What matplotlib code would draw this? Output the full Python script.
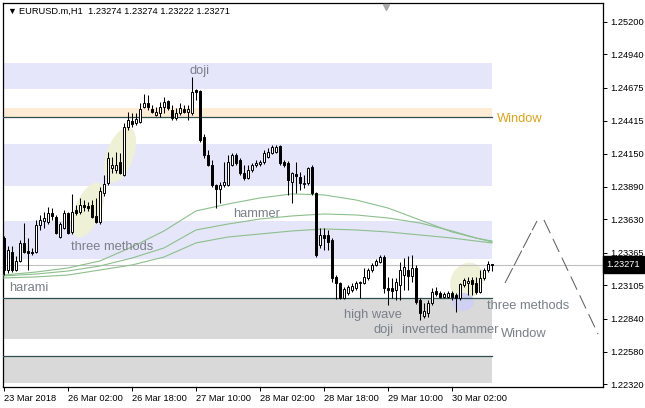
import matplotlib
matplotlib.use('Agg')
import matplotlib.pyplot as plt
import matplotlib.patches as mpatches
import matplotlib.transforms as mtransforms

plt.rcParams['font.family'] = ['Liberation Sans', 'DejaVu Sans']

# --- DATA: EURUSD.m H1, one value per bar ---
opens = [1.23482, 1.23228, 1.23371, 1.23228, 1.23300, 1.23443, 1.23379, 1.23371, 1.23371, 1.23585,
         1.23617, 1.23609, 1.23681, 1.23649, 1.23490, 1.23562, 1.23681, 1.23530, 1.23705, 1.23689,
         1.23744, 1.23736, 1.23744, 1.23657, 1.23609, 1.23840, 1.23919, 1.24038, 1.24022, 1.24086,
         1.23982, 1.24364, 1.24411, 1.24395, 1.24403, 1.24522, 1.24554, 1.24507, 1.24459, 1.24475,
         1.24522, 1.24570, 1.24499, 1.24435, 1.24475, 1.24507, 1.24483, 1.24475, 1.24657, 1.24649,
         1.24284, 1.24141, 1.24062, 1.23903, 1.23871, 1.23903, 1.23903, 1.24062, 1.24141, 1.24102,
         1.23998, 1.23959, 1.24022, 1.24062, 1.24070, 1.24086, 1.24125, 1.24157, 1.24165, 1.24213,
         1.24086, 1.24078, 1.23927, 1.23990, 1.23967, 1.23911, 1.23919, 1.24046, 1.23840, 1.23427,
         1.23506, 1.23506, 1.23466, 1.23173, 1.23125, 1.23006, 1.23046, 1.23070, 1.23085, 1.23125,
         1.23125, 1.23165, 1.23228, 1.23268, 1.23292, 1.23331, 1.23085, 1.23085, 1.23070, 1.23109,
         1.23188, 1.23228, 1.23181, 1.23244, 1.22990, 1.22863, 1.22887, 1.22966, 1.23062, 1.23046,
         1.23014, 1.23014, 1.23046, 1.23030, 1.23006, 1.23109, 1.23125, 1.23149, 1.23125, 1.23054,
         1.23165, 1.23228, 1.23274]
highs = [1.23498, 1.23419, 1.23419, 1.23339, 1.23466, 1.23601, 1.23482, 1.23403, 1.23625, 1.23665,
         1.23689, 1.23728, 1.23720, 1.23665, 1.23609, 1.23705, 1.23689, 1.23832, 1.23744, 1.23800,
         1.23784, 1.23768, 1.23784, 1.23800, 1.23887, 1.23982, 1.24165, 1.24125, 1.24165, 1.24157,
         1.24395, 1.24483, 1.24475, 1.24475, 1.24554, 1.24626, 1.24618, 1.24538, 1.24522, 1.24562,
         1.24602, 1.24578, 1.24538, 1.24514, 1.24554, 1.24538, 1.24538, 1.24761, 1.24665, 1.24657,
         1.24308, 1.24181, 1.24102, 1.23911, 1.23927, 1.24086, 1.24141, 1.24157, 1.24157, 1.24117,
         1.24062, 1.24062, 1.24078, 1.24102, 1.24102, 1.24181, 1.24197, 1.24221, 1.24221, 1.24221,
         1.24102, 1.24094, 1.24006, 1.24086, 1.24006, 1.23982, 1.24046, 1.24062, 1.23848, 1.23562,
         1.23562, 1.23546, 1.23482, 1.23188, 1.23133, 1.23094, 1.23109, 1.23125, 1.23141, 1.23141,
         1.23244, 1.23244, 1.23284, 1.23315, 1.23347, 1.23347, 1.23173, 1.23165, 1.23165, 1.23292,
         1.23323, 1.23339, 1.23347, 1.23268, 1.23006, 1.22966, 1.22990, 1.23085, 1.23094, 1.23062,
         1.23054, 1.23062, 1.23062, 1.23046, 1.23125, 1.23165, 1.23173, 1.23173, 1.23173, 1.23228,
         1.23244, 1.23300, 1.23274]
lows = [1.23188, 1.23204, 1.23212, 1.23220, 1.23292, 1.23363, 1.23228, 1.23347, 1.23363, 1.23546,
        1.23562, 1.23593, 1.23625, 1.23514, 1.23482, 1.23554, 1.23514, 1.23514, 1.23665, 1.23673,
        1.23697, 1.23697, 1.23641, 1.23601, 1.23593, 1.23816, 1.23903, 1.23998, 1.23998, 1.23990,
        1.23974, 1.24340, 1.24364, 1.24380, 1.24395, 1.24514, 1.24499, 1.24475, 1.24451, 1.24443,
        1.24475, 1.24499, 1.24419, 1.24419, 1.24459, 1.24475, 1.24419, 1.24459, 1.24578, 1.24244,
        1.24117, 1.24054, 1.23887, 1.23720, 1.23760, 1.23887, 1.23895, 1.24054, 1.24062, 1.23982,
        1.23943, 1.23951, 1.24006, 1.24046, 1.24054, 1.24070, 1.24117, 1.24149, 1.24157, 1.24062,
        1.24046, 1.23824, 1.23760, 1.23840, 1.23863, 1.23879, 1.23903, 1.23824, 1.23331, 1.23403,
        1.23387, 1.23387, 1.23133, 1.22998, 1.22998, 1.22998, 1.23030, 1.23054, 1.23070, 1.23006,
        1.23117, 1.23149, 1.23212, 1.23260, 1.23284, 1.23046, 1.22950, 1.23006, 1.22990, 1.22990,
        1.23070, 1.23070, 1.23133, 1.22958, 1.22831, 1.22847, 1.22855, 1.22950, 1.23022, 1.23006,
        1.23006, 1.23006, 1.22990, 1.22895, 1.22990, 1.23094, 1.23030, 1.23030, 1.23038, 1.23046,
        1.23149, 1.23212, 1.23222]
closes = [1.23228, 1.23387, 1.23228, 1.23300, 1.23443, 1.23371, 1.23363, 1.23363, 1.23585, 1.23625,
          1.23641, 1.23681, 1.23657, 1.23522, 1.23593, 1.23681, 1.23522, 1.23689, 1.23681, 1.23744,
          1.23728, 1.23720, 1.23649, 1.23609, 1.23855, 1.23911, 1.24117, 1.24062, 1.24062, 1.23998,
          1.24364, 1.24419, 1.24387, 1.24427, 1.24507, 1.24554, 1.24522, 1.24483, 1.24483, 1.24522,
          1.24562, 1.24514, 1.24435, 1.24475, 1.24514, 1.24483, 1.24507, 1.24641, 1.24641, 1.24260,
          1.24141, 1.24062, 1.23903, 1.23871, 1.23903, 1.23927, 1.24086, 1.24141, 1.24078, 1.23998,
          1.23959, 1.24022, 1.24062, 1.24078, 1.24086, 1.24157, 1.24165, 1.24205, 1.24205, 1.24078,
          1.24062, 1.23943, 1.23998, 1.23974, 1.23919, 1.23919, 1.24038, 1.23840, 1.23347, 1.23506,
          1.23482, 1.23451, 1.23165, 1.23125, 1.23006, 1.23077, 1.23094, 1.23101, 1.23125, 1.23133,
          1.23173, 1.23228, 1.23268, 1.23300, 1.23331, 1.23085, 1.23070, 1.23062, 1.23133, 1.23228,
          1.23252, 1.23181, 1.23244, 1.22974, 1.22887, 1.22903, 1.22966, 1.23054, 1.23038, 1.23014,
          1.23038, 1.23046, 1.23014, 1.23006, 1.23117, 1.23149, 1.23141, 1.23117, 1.23054, 1.23165,
          1.23228, 1.23276, 1.23271]

# moving averages, sampled every few bars
ma_bars = [0, 8, 16, 24, 32, 40, 48, 56, 64, 72, 80, 88, 96, 104, 112, 118, 122]
ma_a = [1.23188, 1.23212, 1.23244, 1.23300, 1.23411, 1.23538, 1.23697, 1.23752, 1.23800,
        1.23832, 1.23824, 1.23784, 1.23720, 1.23625, 1.23530, 1.23482, 1.23458]
ma_b = [1.23181, 1.23196, 1.23220, 1.23260, 1.23323, 1.23403, 1.23546, 1.23593, 1.23633,
        1.23657, 1.23673, 1.23665, 1.23641, 1.23601, 1.23538, 1.23482, 1.23451]
ma_c = [1.23165, 1.23173, 1.23188, 1.23228, 1.23268, 1.23331, 1.23443, 1.23490, 1.23514,
        1.23538, 1.23554, 1.23546, 1.23530, 1.23506, 1.23482, 1.23458, 1.23443]

time_ticks = [0, 16, 32, 48, 64, 80, 96, 112]
time_labels = ['23 Mar 2018', '26 Mar 02:00', '26 Mar 18:00', '27 Mar 10:00',
               '28 Mar 02:00', '28 Mar 18:00', '29 Mar 10:00', '30 Mar 02:00']
price_ticks = [1.25200, 1.24940, 1.24675, 1.24415, 1.24150, 1.23890,
               1.23630, 1.23365, 1.23105, 1.22840, 1.22580, 1.22320]
last_price = 1.23271

# zones: (low, high)
lavender_zones = [(1.24665, 1.24872), (1.23895, 1.24229), (1.23315, 1.23617)]
peach_zone = (1.24443, 1.24514)
gray_zones = [(1.22680, 1.23006), (1.22331, 1.22545)]
level_lines = [1.24443, 1.23006, 1.22545]
zone_end = 121.9

# highlight ellipses: (bar, price, width px, height px, angle, colour)
ellipses = [(21.0, 1.23705, 58, 26, 68, '#eef1d6'),
            (29.0, 1.24141, 58, 27, 70, '#eef1d6'),
            (115.75, 1.23141, 38, 32, 60, '#eef1d6'),
            (114.75, 1.22975, 22, 18, 0, '#cfd0f2')]

# pattern labels
label_texts = ['doji', 'three methods', 'harami', 'hammer', 'high wave',
               'doji', 'inverted hammer', 'three methods', 'Window']
label_bars = [46.5, 16.75, 1.25, 57.25, 85.0, 92.5, 99.4, 120.75, 124.25]
label_prices = [1.24784, 1.23387, 1.23062, 1.23651, 1.22847, 1.22728, 1.22728, 1.22919, 1.22696]
window_bar, window_price = 123.25, 1.24406

# projected zigzag
zig1_bars, zig1_prices = [125.25, 133.25], [1.23125, 1.23617]
zig2_bars, zig2_prices = [135.0, 148.5], [1.23625, 1.22720]

# ── CHART ───────────────────────────────────────────────
C = dict(lav='#e6e6fa', peach='#feecd5', gray='#d9d9d9', level='#2f4f4f',
         ma='#8cbf8c', txt='#7b7f88', win='#daa520', price='#c0c0c0')

fig = plt.figure(figsize=(6.45, 4.08), dpi=100, facecolor='white')
ax = fig.add_axes([3/645, 21/408, 600/645, 384/408])
ax.set_xlim(-0.25, 149.75)
ax.set_ylim(1.22299, 1.25348)

for lo, hi in lavender_zones:
    ax.fill_between([-1, zone_end], lo, hi, color=C['lav'], lw=0, zorder=1)
ax.fill_between([-1, zone_end], peach_zone[0], peach_zone[1], color=C['peach'], lw=0, zorder=1)
for lo, hi in gray_zones:
    ax.fill_between([-1, zone_end], lo, hi, color=C['gray'], lw=0, zorder=1)

for bx, py, w, h, ang, col in ellipses:
    tr = fig.dpi_scale_trans + mtransforms.ScaledTranslation(bx, py, ax.transData)
    ax.add_patch(mpatches.Ellipse((0, 0), w/100, h/100, angle=ang, transform=tr,
                                  facecolor=col, edgecolor='none', zorder=2))

for lv in level_lines:
    ax.plot([-1, zone_end], [lv, lv], color=C['level'], lw=0.9, zorder=3)
ax.axhline(last_price, color=C['price'], lw=0.8, zorder=3)

for ma in (ma_a, ma_b, ma_c):
    ax.plot(ma_bars, ma, color=C['ma'], lw=0.8, zorder=3)

# candles
bars = list(range(len(opens)))
ax.vlines(bars, lows, highs, color='black', lw=0.75, zorder=4)
for i in bars:
    o, c = opens[i], closes[i]
    face = 'white' if c >= o else 'black'
    h = max(abs(c - o), 0.00001)
    ax.bar(i, h, bottom=min(o, c), width=0.55, color=face, edgecolor='black',
           lw=0.7, zorder=5)

ax.plot(zig1_bars, zig1_prices, color='#606060', lw=0.75, ls=(0, (16, 3)), zorder=3)
ax.plot(zig2_bars, zig2_prices, color='#606060', lw=0.75, ls=(0, (14, 6)), zorder=3)

for t, bx, py in zip(label_texts, label_bars, label_prices):
    ax.text(bx, py, t, color=C['txt'], fontsize=9.3, ha='left', va='baseline', zorder=6)
ax.text(window_bar, window_price, 'Window', color=C['win'], fontsize=9.3,
        ha='left', va='baseline', zorder=6)

# shift marker at top
top_tr = mtransforms.blended_transform_factory(ax.transData, ax.transAxes)
ax.plot([95.5], [0.99], marker='v', color='#a8a8a8', markersize=5, transform=top_tr,
        clip_on=False, zorder=6)

# axes
ax.yaxis.tick_right()
ax.set_yticks(price_ticks)
ax.set_yticklabels([f'{p:.5f}' for p in price_ticks])
ax.set_xticks(time_ticks)
ax.set_xticklabels(time_labels)
for lbl in ax.get_xticklabels():
    lbl.set_ha('left')
ax.tick_params(axis='both', direction='out', length=3, width=0.7, labelsize=6.7,
               colors='black', pad=2)
for s in ax.spines.values():
    s.set_color('black'); s.set_linewidth(0.9)

price_tr = mtransforms.blended_transform_factory(ax.transAxes, ax.transData)
ax.text(1.006, last_price, f'{last_price:.5f}', transform=price_tr, color='white',
        fontsize=6.7, ha='left', va='center', zorder=7,
        bbox=dict(facecolor='black', edgecolor='black', boxstyle='square,pad=0.4'))

fig.text(7/645, 1 - 11/408, '\u25bc', fontsize=6.5, ha='left', va='center')
fig.text(19/645, 1 - 11/408, 'EURUSD.m,H1  1.23274 1.23274 1.23222 1.23271',
         fontsize=6.7, ha='left', va='center')

plt.savefig('out.png', dpi=100, facecolor='white')
plt.close()
